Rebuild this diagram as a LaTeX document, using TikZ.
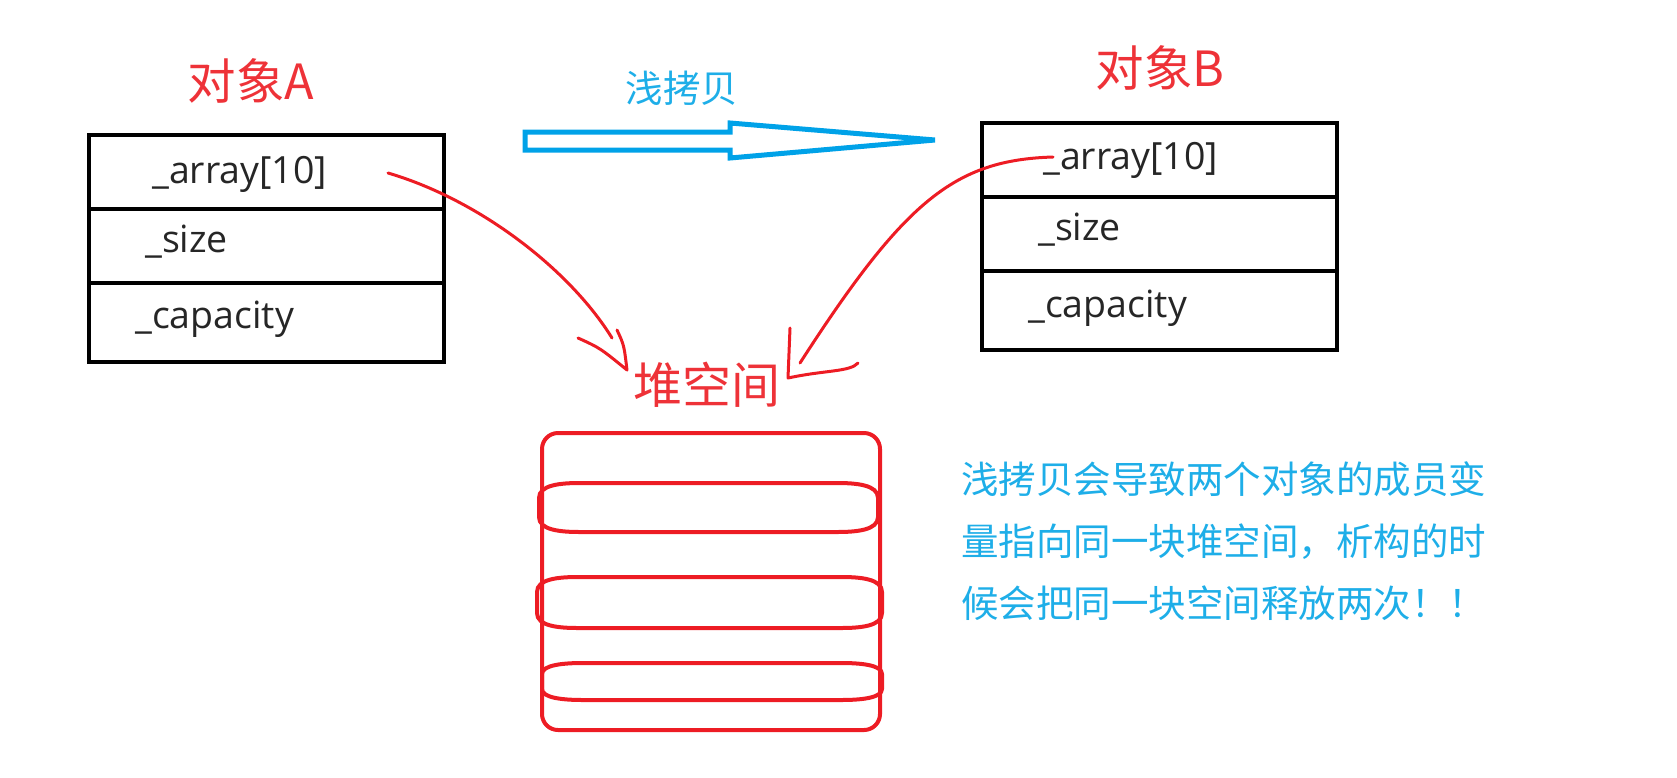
\documentclass[tikz,border=0pt]{standalone}
\usepackage{fontspec}
\setmainfont{Open Sans}
\newfontfamily\cjk{Noto Sans CJK SC}
\definecolor{pred}{RGB}{237,28,36}
\definecolor{tred}{RGB}{238,50,56}
\definecolor{pblue}{RGB}{0,162,232}
\definecolor{tblue}{RGB}{30,174,232}
\begin{document}
\begin{tikzpicture}[x=1pt,y=-1pt,
  rowbox/.style={draw=black,line width=4pt,minimum width=355pt,inner sep=0pt,anchor=north west},
  field/.style={anchor=base west,inner sep=0pt,font=\fontsize{37.5}{45}\selectfont,text=black!85},
  title/.style={inner sep=0pt,text=tred,font=\cjk\fontsize{48.5}{58}\selectfont},
  redpen/.style={draw=pred,line width=3pt,line cap=round,line join=round},
  heapline/.style={draw=pred,line width=4pt,line join=round}]
\useasboundingbox (0,0) rectangle (1677,777);

% object A
\node[title] (tA) at (251,81) {对象A};
\node[rowbox,minimum height=74pt] (a1) at (87,133) {};
\node[rowbox,minimum height=74pt] (a2) at (87,207) {};
\node[rowbox,minimum height=79pt] (a3) at (87,281) {};
\node[field] (fa1) at (152,183) {\_array[10]};
\node[field] (fa2) at (145,252) {\_size};
\node[field] (fa3) at (135,328) {\_capacity};

% object B
\node[title] (tB) at (1160,68) {对象B};
\node[rowbox,minimum height=74pt] (b1) at (980,121) {};
\node[rowbox,minimum height=74pt] (b2) at (980,195) {};
\node[rowbox,minimum height=79pt] (b3) at (980,269) {};
\node[field] (fb1) at (1043,169) {\_array[10]};
\node[field] (fb2) at (1038,240) {\_size};
\node[field] (fb3) at (1028,317) {\_capacity};

% shallow copy arrow
\node[inner sep=0pt,text=tblue,font=\cjk\fontsize{37.5}{45}\selectfont] (lcopy) at (682,88) {浅拷贝};
\coordinate (cpS) at (525,141);
\coordinate (cpT) at (935,140);
\draw[draw=pblue,line width=5pt,line join=miter]
  (cpS) |- (730,132) -- (730,123) -- (cpT) -- (730,158) -- (730,150) -| cycle;

% heap
\node[title,font=\cjk\fontsize{49}{58}\selectfont] (hl) at (707,385) {堆空间};
\node[heapline,rounded corners=16pt,minimum width=338pt,minimum height=297pt,inner sep=0pt] (heap) at (711,581.5) {};
\draw[heapline] (539,498) -- (539,517) .. controls (539,530) and (560,532) .. (580,532) -- (837,532)
  .. controls (857,532) and (878,530) .. (878,517) -- (878,498) .. controls (878,485) and (857,483) .. (837,483)
  -- (580,483) .. controls (560,483) and (539,485) .. cycle;
\draw[heapline] (537,592) -- (537,613) .. controls (537,626) and (558,628) .. (578,628) -- (841,628)
  .. controls (861,628) and (882,626) .. (882,613) -- (882,592) .. controls (882,579) and (861,577) .. (841,577)
  -- (578,577) .. controls (558,577) and (537,579) .. cycle;
\draw[heapline] (542,674) -- (542,689) .. controls (542,698) and (563,700) .. (583,700) -- (841,700)
  .. controls (861,700) and (882,698) .. (882,689) -- (882,674) .. controls (882,665) and (861,663) .. (841,663)
  -- (583,663) .. controls (563,663) and (542,665) .. cycle;

% red arrows
\coordinate (aS) at (388,173);
\coordinate (aE) at (612,338);
\coordinate (aT) at (627,370);
\draw[redpen] (aS) .. controls (480,200) and (570,270) .. (aE);
\draw[redpen] (578,338) .. controls (600,348) .. (aT) .. controls (624,345) .. (617,330);
\coordinate (bS) at (1053,157);
\coordinate (bE) at (800,363);
\coordinate (bT) at (788,378);
\draw[redpen] (bS) .. controls (955,160) and (905,200) .. (bE);
\draw[redpen] (790,328) -- (bT) .. controls (825,370) and (850,372) .. (858,363);

% note
\node[anchor=north west,inner sep=0pt,align=left,text=tblue,font=\cjk\fontsize{37.5}{62}\selectfont] (note) at (961,461)
  {浅拷贝会导致两个对象的成员变\\量指向同一块堆空间，析构的时\\候会把同一块空间释放两次！！};
\end{tikzpicture}
\end{document}
